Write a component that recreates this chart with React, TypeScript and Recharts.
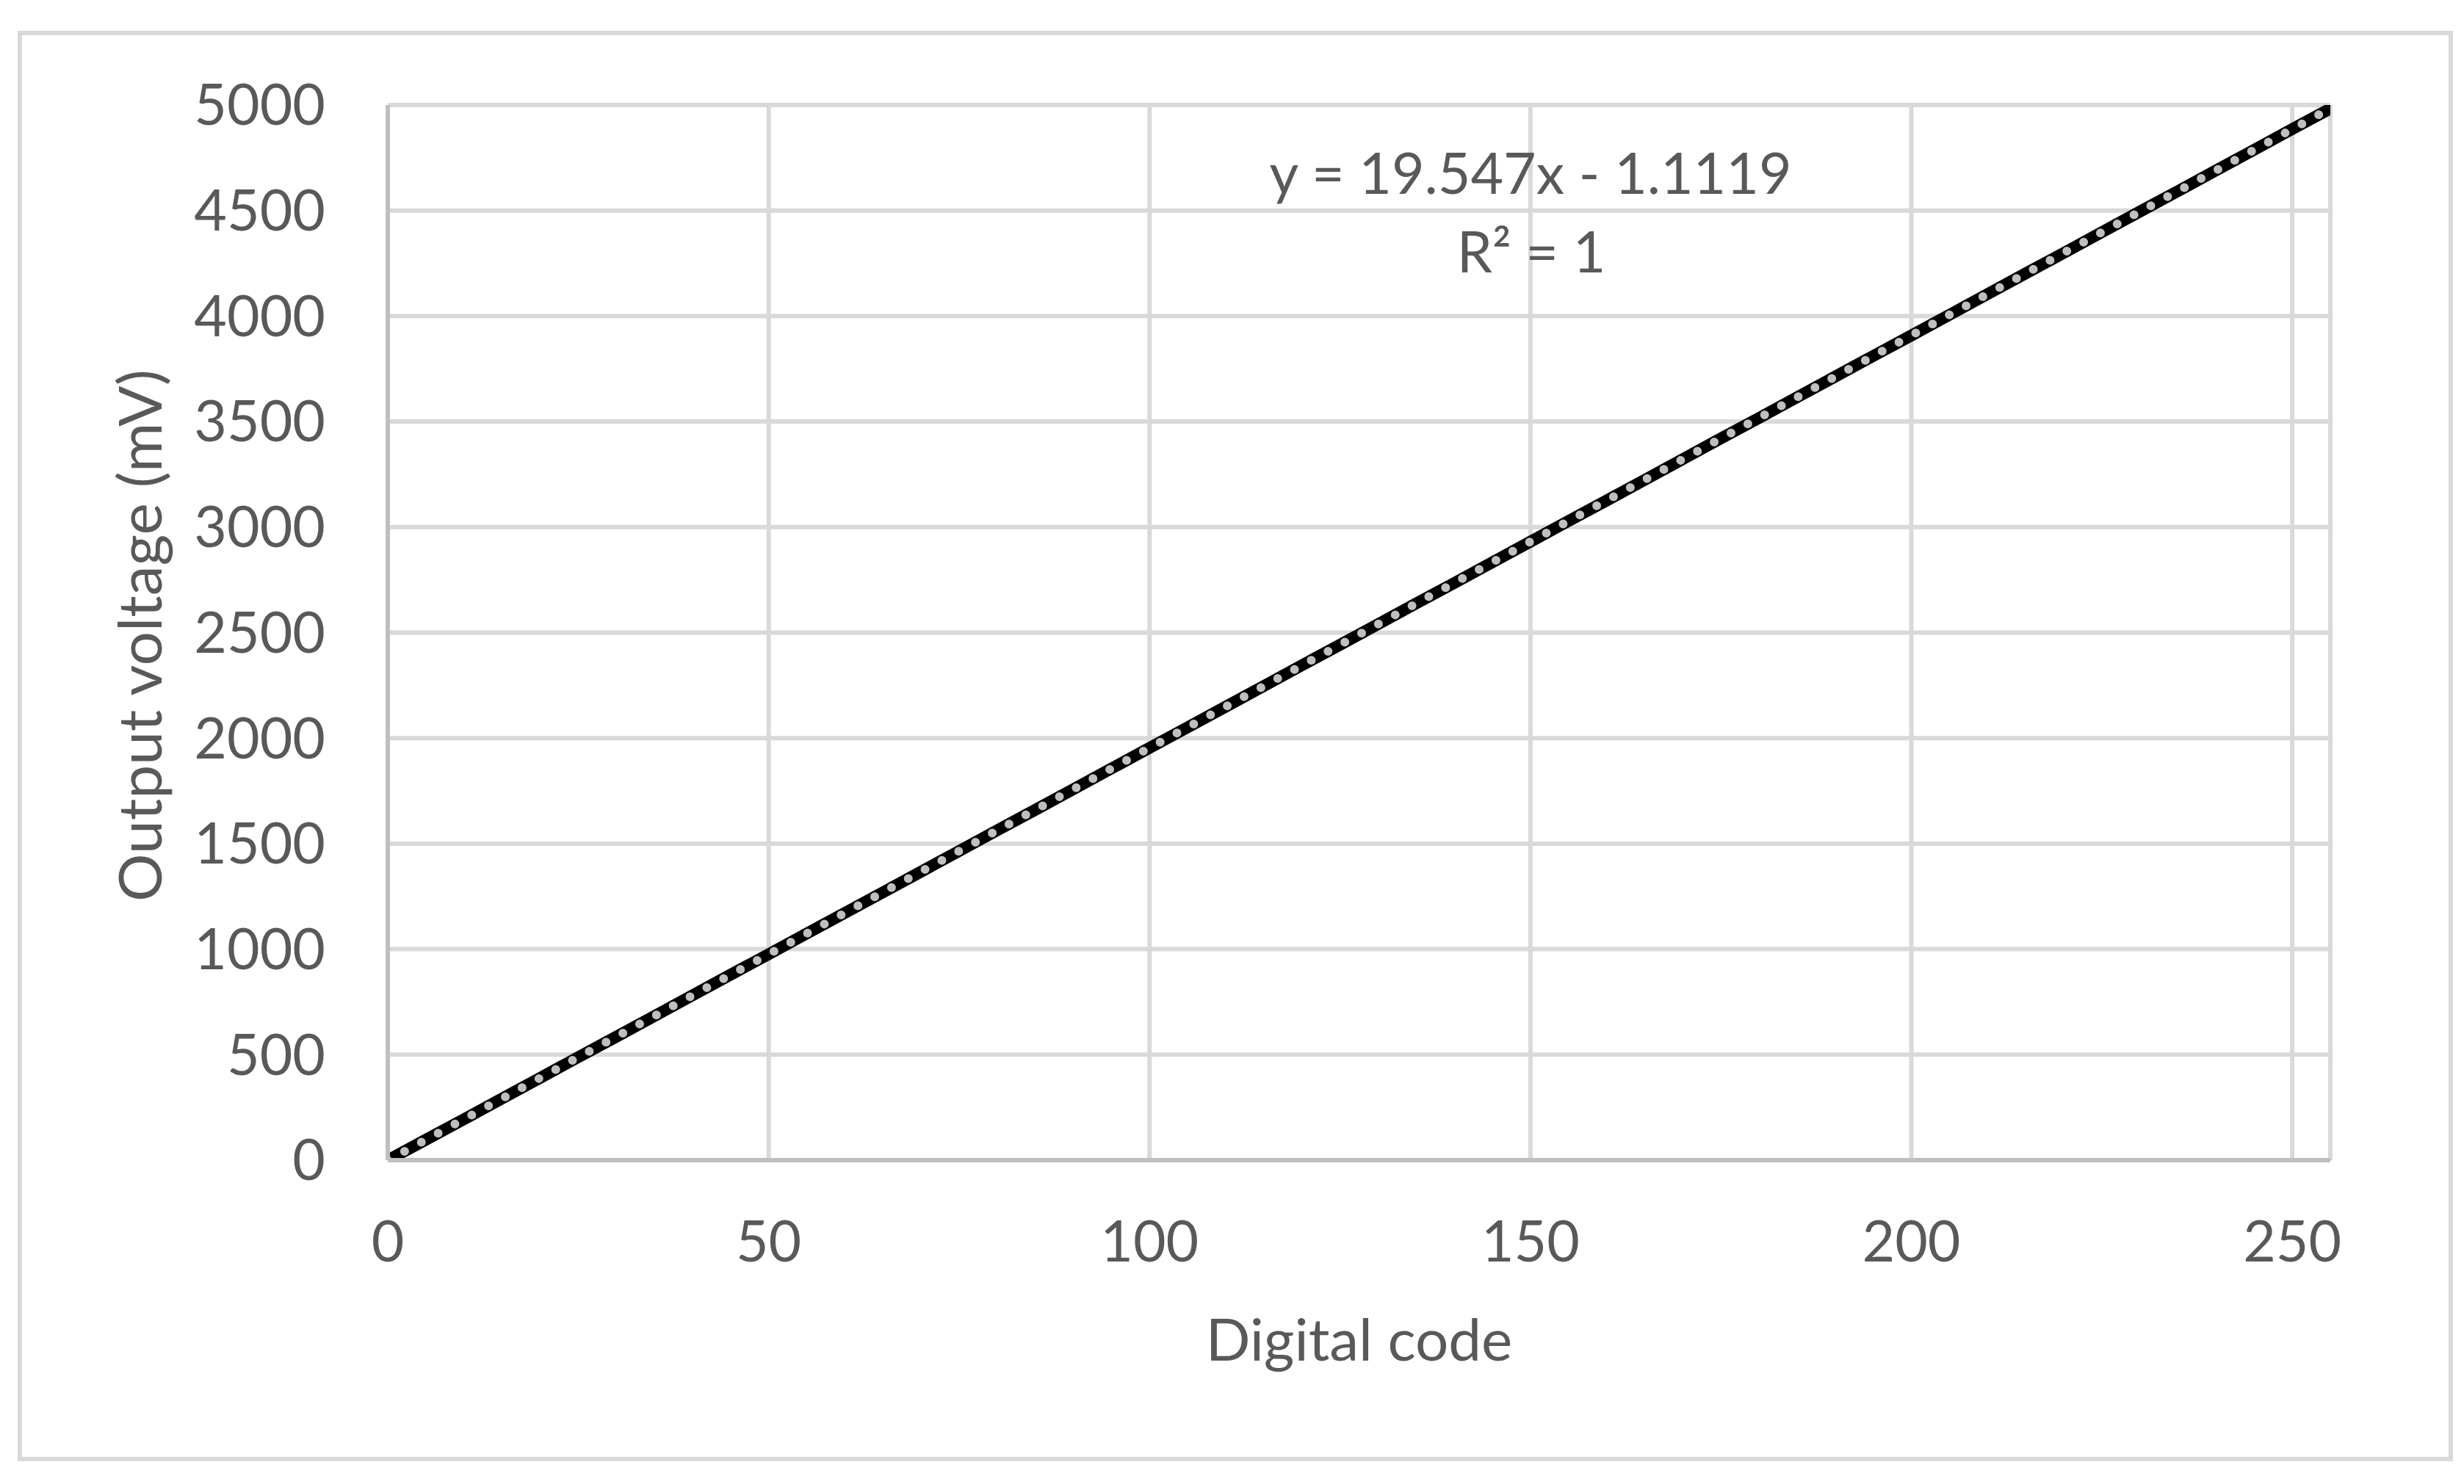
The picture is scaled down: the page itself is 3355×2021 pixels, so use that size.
import React from 'react';
import { ComposedChart, Line, XAxis, YAxis, CartesianGrid, Label } from 'recharts';

// Measured points: digital code -> output voltage (mV)
const codes = [
  0, 5, 10, 15, 20, 25, 30, 35, 40, 45, 50, 55, 60, 65, 70, 75, 80, 85, 90, 95,
  100, 105, 110, 115, 120, 125, 130, 135, 140, 145, 150, 155, 160, 165, 170, 175,
  180, 185, 190, 195, 200, 205, 210, 215, 220, 225, 230, 235, 240, 245, 250, 255,
];
const voltages = [
  0, 97, 194, 292, 390, 488, 585, 683, 781, 879, 976, 1074, 1172, 1269, 1367, 1465, 1563, 1660, 1758, 1856,
  1954, 2051, 2149, 2247, 2345, 2442, 2540, 2638, 2735, 2833, 2931, 3029, 3126, 3224, 3322, 3420,
  3517, 3615, 3713, 3811, 3908, 4006, 4104, 4202, 4299, 4397, 4495, 4592, 4690, 4788, 4886, 4983,
];

// Linear trendline end points
const trendCodes = [0, 255];
const trendVoltages = [-1.1, 4983.4];

const xTicks = [0, 50, 100, 150, 200, 250];
const yTicks = [0, 500, 1000, 1500, 2000, 2500, 3000, 3500, 4000, 4500, 5000];

const equationText = 'y = 19.547x - 1.1119';
const r2Text = 'R² = 1';

const measured = codes.map((c, i) => ({ code: c, mv: voltages[i] }));
const trend = trendCodes.map((c, i) => ({ code: c, mv: trendVoltages[i] }));

const FONT = 'Lato, "Open Sans", sans-serif';
const TEXT = '#595959';
const FS = 77;
const TITLE_FS = 80;

const YTitle = (props: any) => {
  const vb = props.viewBox || {};
  const x = 220;
  const y = (vb.y ?? 143) + (vb.height ?? 1437) / 2 + 4;
  return (
    <text x={x} y={y} transform={`rotate(-90 ${x} ${y})`} textAnchor="middle" fill={TEXT} fontSize={TITLE_FS + 2} fontFamily={FONT}>
      Output voltage (mV)
    </text>
  );
};

const App: React.FC = () => {
  return (
    <div style={{ position: 'absolute', left: 0, top: 0, width: 3355, height: 2021, background: '#fff' }}>
      <div
        style={{
          position: 'absolute', left: 24, top: 42, width: 3316, height: 1948,
          border: '6px solid #d9d9d9', boxSizing: 'border-box',
        }}
      />
      <div style={{ position: 'absolute', left: 0, top: 0 }}>
        <ComposedChart width={3355} height={2021} margin={{ top: 143, right: 182, left: 0, bottom: 0 }}>
          <CartesianGrid stroke="#d9d9d9" strokeWidth={6} />
          <XAxis
            type="number"
            dataKey="code"
            domain={[0, 255]}
            ticks={xTicks}
            height={441}
            axisLine={{ stroke: '#bfbfbf', strokeWidth: 6 }}
            tickLine={false}
            tickSize={0}
            tickMargin={83}
            tick={{ fill: TEXT, fontSize: FS, fontFamily: FONT }}
            allowDataOverflow
          >
            <Label value="Digital code" position="insideBottom" offset={168} fill={TEXT} fontSize={TITLE_FS} fontFamily={FONT} />
          </XAxis>
          <YAxis
            type="number"
            domain={[0, 5000]}
            ticks={yTicks}
            width={528}
            axisLine={{ stroke: '#bfbfbf', strokeWidth: 6 }}
            tickLine={false}
            tickSize={0}
            tickMargin={85}
            tick={{ fill: TEXT, fontSize: FS, fontFamily: FONT }}
            allowDataOverflow
          >
            <Label content={YTitle} />
          </YAxis>
          <Line
            data={measured}
            dataKey="mv"
            type="linear"
            stroke="#000000"
            strokeWidth={16}
            strokeLinecap="round"
            strokeLinejoin="round"
            dot={false}
            activeDot={false}
            isAnimationActive={false}
          />
          <Line
            data={trend}
            dataKey="mv"
            type="linear"
            stroke="#bfbfbf"
            strokeWidth={12}
            strokeLinecap="round"
            strokeDasharray="0 26"
            dot={false}
            activeDot={false}
            isAnimationActive={false}
          />
        </ComposedChart>
      </div>
      <svg width={3355} height={2021} style={{ position: 'absolute', left: 0, top: 0, pointerEvents: 'none' }}>
        <text x={2084} y={264} textAnchor="middle" fill={TEXT} fontSize={FS} fontFamily={FONT}>{equationText}</text>
        <text x={2085} y={371} textAnchor="middle" fill={TEXT} fontSize={FS} fontFamily={FONT}>{r2Text}</text>
      </svg>
    </div>
  );
};

export default App;
